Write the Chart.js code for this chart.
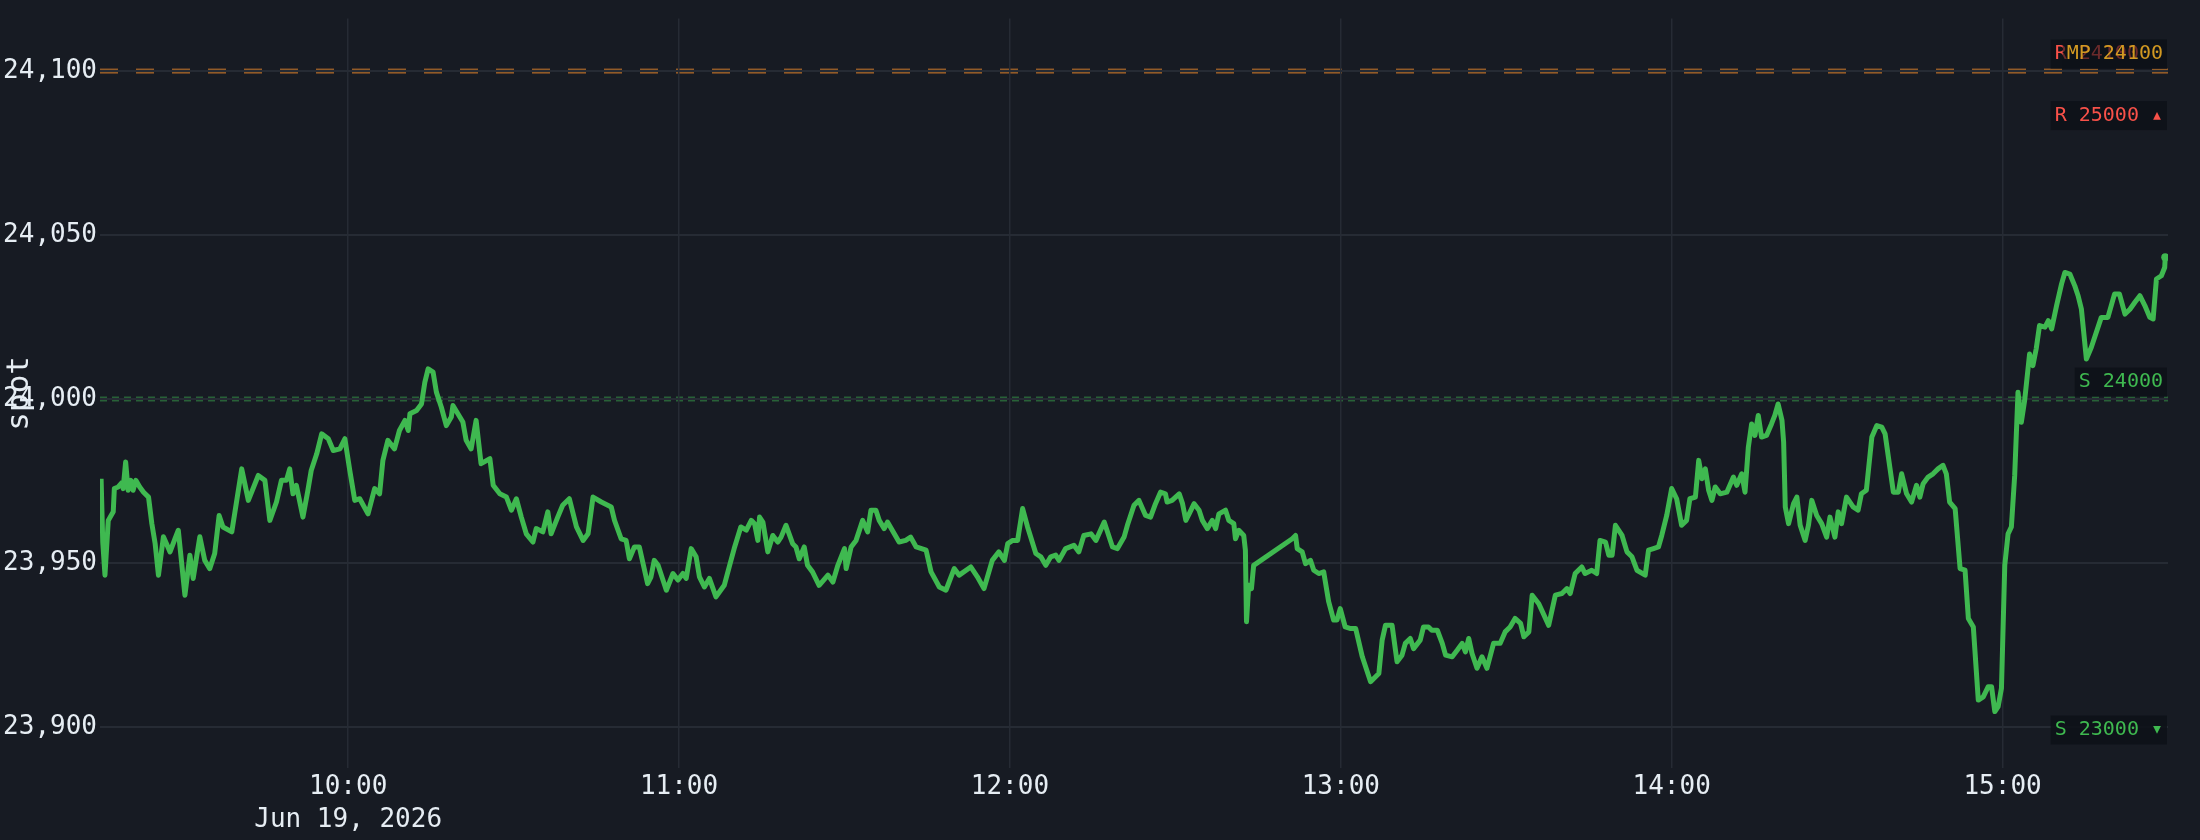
<!DOCTYPE html>
<html lang="en">
<head>
<meta charset="UTF-8">
<title>spot</title>
<script src="https://cdn.jsdelivr.net/npm/chart.js"></script>
<style>
  html, body { margin: 0; padding: 0; background: #171b23; }
  #wrap { width: 2200px; height: 840px; }
</style>
</head>
<body>
<div id="wrap"><canvas id="spotChart" width="2200" height="840"></canvas></div>
<script>
// x values are minutes since midnight (09:15 = 555, 15:30 = 930)
const times = [
  555.2, 555.5, 555.9, 556.5, 557.4, 557.6, 558.3, 558.9, 559.2, 559.65, 560.1, 560.6, 561.0, 561.5, 562.2, 562.9,
  563.8, 564.4, 565.0, 565.6, 566.5, 567.7, 568.6, 569.2, 570.4, 571.3, 571.9, 573.1, 574.0, 574.9, 575.8, 576.6,
  577.3, 578.9, 580.7, 581.9, 583.7, 584.9, 585.8, 587.0, 587.9, 588.8, 589.4, 590.0, 590.6, 591.8, 592.7, 593.3,
  594.3, 595.2, 596.4, 597.3, 598.5, 599.4, 600.3, 601.2, 602.1, 603.6, 604.8, 605.7, 606.3, 607.2, 608.4, 609.3,
  610.3, 610.9, 611.2, 612.4, 613.3, 613.9, 614.5, 615.4, 616.0, 616.9, 617.8, 618.7, 619.0, 619.9, 620.8, 621.4,
  622.3, 623.2, 624.1, 625.7, 626.3, 627.5, 628.7, 629.6, 630.5, 631.4, 632.3, 633.5, 634.1, 635.3, 636.2, 636.8,
  638.0, 638.9, 640.1, 641.4, 642.6, 643.5, 644.4, 645.9, 647.7, 648.3,
  649.5, 650.4, 651.0, 651.9, 652.8, 654.3, 654.9, 655.5, 656.2, 657.7, 658.9, 659.8, 660.7, 661.3, 662.2, 663.1,
  663.7, 664.6, 665.5, 666.7, 668.2, 669.1, 670.0, 671.2, 672.2, 673.1, 673.7, 674.3, 674.6, 675.2, 676.1, 677.0,
  677.9, 678.5, 679.4, 680.6, 681.2, 681.8, 682.7, 683.3, 684.2, 685.4, 687.0, 687.9, 688.8, 690.0, 690.3, 691.2,
  692.1, 693.3, 694.2, 694.8, 695.7, 696.3, 697.2, 697.8, 699.9, 701.1, 702.0, 703.0, 704.8, 705.7, 707.2, 708.4,
  709.9, 710.8, 712.9, 714.1, 715.3, 716.8, 718.0, 719.0, 719.6, 720.5, 721.4, 722.3, 723.2, 724.7, 725.6, 726.5,
  727.4, 728.3, 728.9, 730.1, 731.6, 732.5, 733.4, 734.7, 735.6, 737.1, 738.6, 739.5, 740.7, 741.3, 742.5,
  743.4, 744.6, 745.5, 746.4, 747.3, 748.2, 748.5, 749.4, 750.7, 751.3, 751.9, 752.5, 753.4, 754.3, 754.9, 755.8,
  756.7, 757.3, 757.9, 759.1, 759.7, 760.6, 760.9, 761.5, 762.4, 762.7, 762.9, 763.3, 763.8, 764.2, 771.2, 771.8,
  772.1, 773.0, 773.6, 774.5, 775.1, 776.0, 776.9, 777.8, 778.7, 779.3, 779.9, 780.8, 781.8, 782.7, 783.9, 785.4,
  786.9, 787.5, 788.1, 789.3, 790.2, 791.1, 791.7, 792.6, 793.2, 794.4, 795.0, 795.9, 796.5, 797.5, 798.4, 799.0,
  800.2, 801.1, 802.0, 802.6, 803.2, 803.8, 804.7, 805.6, 806.5, 807.7, 808.9, 809.8, 810.7, 811.6, 812.6, 813.2,
  814.1, 814.7, 815.9, 817.7, 818.9, 820.1, 821.0, 821.6, 822.5, 823.7, 824.3, 825.5, 826.4, 827.0, 828.0, 828.6,
  829.2, 829.8, 831.0, 831.9, 832.8, 833.7, 835.2, 835.8, 836.7,
  837.6, 838.2, 839.1, 840.0, 840.9, 841.8, 842.7, 843.3, 844.3, 844.9, 845.5, 846.1, 846.7, 847.3, 847.9, 848.8,
  850.0, 851.2, 851.8, 852.7, 853.3, 853.9, 854.5, 855.1, 855.7, 856.3, 857.2, 858.1, 858.7, 859.3, 860.0, 860.3,
  860.6, 861.2, 862.1, 862.7, 863.3, 864.2, 864.8, 865.4, 866.3, 867.2, 868.1, 868.7, 869.6, 870.2, 870.8, 871.7,
  872.9, 873.8, 874.4, 875.3, 876.3, 877.2, 878.1, 878.7, 879.6, 880.2, 881.1, 881.7, 882.6, 883.5, 884.4, 885.0,
  885.6, 886.5, 887.4, 888.3, 889.2, 889.8, 890.4, 891.4, 892.3, 893.2, 893.8, 894.7, 895.6, 896.5, 897.4, 898.0,
  898.6, 899.2, 899.8, 900.4, 901.0, 901.6, 902.2, 902.8, 903.4, 904.0, 904.9, 905.5, 906.1, 906.7, 907.7, 908.3,
  908.9, 909.8, 910.7, 911.3, 912.2, 913.1, 913.7, 914.3, 915.2, 916.1, 917.9, 919.1, 920.3, 921.2, 922.2, 923.1,
  924.0, 924.9, 925.8, 926.7, 927.3, 927.9, 928.8, 929.4, 929.5
];
const spot = [
  23975.7, 23956.4, 23946.3, 23963.0, 23965.6, 23972.7, 23973.2, 23974.4, 23972.7, 23980.8, 23972.2, 23975.2, 23972.2, 23975.2, 23973.2, 23971.6,
  23970.1, 23962.0, 23955.9, 23946.3, 23958.0, 23953.4, 23957.4, 23960.0, 23940.2, 23952.4, 23945.3, 23958.0, 23950.8, 23948.3, 23952.9, 23964.5,
  23961.0, 23959.5, 23978.7, 23969.1, 23976.7, 23975.2, 23963.0, 23968.6, 23975.2, 23975.2, 23978.7, 23971.1, 23973.7, 23964.0, 23972.2, 23978.2,
  23983.3, 23989.4, 23987.9, 23984.3, 23984.8, 23987.9, 23978.2, 23969.1, 23969.6, 23965.0, 23972.7, 23971.1, 23981.3, 23987.4, 23984.8, 23990.4,
  23993.5, 23990.4, 23995.5, 23996.5, 23998.5, 24005.1, 24009.2, 24008.2, 24002.1, 23997.5, 23991.9, 23994.5, 23998.0, 23995.5, 23993.0, 23987.4,
  23984.8, 23993.5, 23980.3, 23981.8, 23973.7, 23971.1, 23970.1, 23966.1, 23969.6, 23964.0, 23958.9, 23956.4, 23960.5, 23959.5, 23965.6, 23958.9,
  23964.0, 23967.6, 23969.6, 23961.0, 23956.9, 23958.9, 23970.1, 23968.6, 23967.1, 23963.0,
  23957.4, 23956.9, 23951.3, 23954.9, 23954.9, 23943.7, 23945.7, 23950.8, 23949.3, 23941.7, 23946.8, 23944.8, 23946.8, 23945.3, 23954.4, 23951.9,
  23945.8, 23942.7, 23945.3, 23939.7, 23943.2, 23948.8, 23954.4, 23961.0, 23960.0, 23963.0, 23962.0, 23956.9, 23964.0, 23962.5, 23953.4, 23958.4,
  23956.4, 23957.9, 23961.5, 23955.9, 23954.9, 23951.3, 23954.9, 23949.3, 23947.3, 23943.2, 23946.3, 23944.2, 23949.3, 23954.4, 23948.3, 23954.9,
  23956.9, 23963.0, 23959.5, 23966.1, 23966.1, 23963.0, 23960.5, 23962.5, 23956.4, 23956.9, 23957.9, 23954.9, 23953.9, 23947.3, 23942.7, 23941.7,
  23948.3, 23946.3, 23948.8, 23945.8, 23942.2, 23950.8, 23953.4, 23950.8, 23955.9, 23956.9, 23956.9, 23966.6, 23961.0, 23952.9, 23951.9, 23949.3,
  23951.9, 23952.4, 23950.8, 23954.4, 23955.4, 23953.4, 23958.4, 23958.9, 23956.9, 23962.5, 23954.9, 23954.4, 23957.9, 23961.5, 23967.6,
  23969.1, 23964.5, 23964.0, 23968.1, 23971.6, 23971.1, 23968.6, 23969.1, 23971.1, 23968.1, 23963.0, 23965.0, 23968.1, 23966.1, 23963.0, 23960.5,
  23963.0, 23960.5, 23965.0, 23966.1, 23963.0, 23962.0, 23957.4, 23960.0, 23958.4, 23953.9, 23932.1, 23943.2, 23942.2, 23949.3, 23957.4, 23958.4,
  23954.4, 23953.4, 23949.8, 23950.8, 23947.8, 23946.8, 23947.3, 23938.2, 23932.6, 23932.6, 23936.1, 23930.5, 23930.0, 23930.0, 23921.4, 23913.8,
  23916.3, 23926.5, 23931.0, 23931.0, 23919.9, 23921.9, 23925.5, 23927.0, 23923.9, 23926.5, 23930.5, 23930.5, 23929.5, 23929.5, 23925.5, 23921.9,
  23921.4, 23923.4, 23925.5, 23922.9, 23927.0, 23922.4, 23917.9, 23921.4, 23917.9, 23925.5, 23925.5, 23929.0, 23930.5, 23933.1, 23931.6, 23927.5,
  23929.0, 23940.2, 23937.6, 23931.0, 23940.2, 23940.7, 23942.2, 23940.7, 23946.8, 23948.8, 23946.8, 23947.8, 23946.8, 23956.9, 23956.4, 23952.4,
  23952.4, 23961.5, 23958.4, 23953.4, 23951.9, 23947.8, 23946.3, 23953.9, 23954.4,
  23954.9, 23958.4, 23964.5, 23972.7, 23969.6, 23961.5, 23963.0, 23969.6, 23970.1, 23981.3, 23975.7, 23978.7, 23972.2, 23969.1, 23973.2, 23971.1,
  23971.6, 23976.2, 23973.7, 23977.2, 23971.6, 23985.3, 23992.4, 23988.9, 23995.0, 23988.4, 23988.9, 23992.4, 23995.0, 23998.5, 23993.5, 23986.9,
  23967.1, 23962.0, 23968.1, 23970.1, 23961.5, 23956.9, 23961.5, 23969.1, 23964.5, 23962.0, 23957.9, 23964.0, 23957.9, 23965.6, 23962.0, 23970.1,
  23967.1, 23966.1, 23971.1, 23972.2, 23988.4, 23991.9, 23991.4, 23989.4, 23978.7, 23971.6, 23971.6, 23977.2, 23971.1, 23968.6, 23973.7, 23970.1,
  23974.2, 23976.2, 23977.2, 23978.7, 23979.8, 23977.2, 23968.6, 23966.6, 23948.3, 23947.8, 23933.1, 23930.5, 23908.2, 23909.2, 23912.3, 23912.3,
  23904.7, 23906.2, 23911.8, 23949.3, 23958.9, 23961.0, 23976.7, 24002.1, 23992.9, 23999.5, 24013.7, 24010.2, 24015.3, 24022.4, 24021.9, 24023.9,
  24021.4, 24028.5, 24035.1, 24038.6, 24038.1, 24034.5, 24031.5, 24027.4, 24012.2, 24015.8, 24024.9, 24024.9, 24032.0, 24032.0, 24025.9, 24027.4,
  24029.5, 24031.5, 24028.5, 24024.9, 24024.4, 24036.6, 24037.6, 24040.1, 24043.2
];

const xTicks = [600, 660, 720, 780, 840, 900];
const yTicks = [23900, 23950, 24000, 24050, 24100];
const dateLabel = 'Jun 19, 2026';

// support / resistance / max pain levels
const levelNames = ['R', 'R', 'MP', 'S', 'S'];
const levelValues = [25000, 24100, 24100, 24000, 23000];

const bg = '#171b23';
const fg = '#e6edf3';
const gridColor = '#262b34';
const mono = "'DejaVu Sans Mono', monospace";
const colors = { R: '#f85149', S: '#3fb950', MP: '#d29922' };
const lineColors = { R: 'rgba(248,81,73,0.3)', S: 'rgba(63,185,80,0.45)', MP: 'rgba(210,153,34,0.45)' };

function hhmm(m) {
  const h = Math.floor(m / 60), mm = Math.round(m % 60);
  return String(h).padStart(2, '0') + ':' + String(mm).padStart(2, '0');
}

const levelLines = {
  id: 'levelLines',
  beforeDraw(chart) {
    const { ctx, chartArea: a, scales: { y } } = chart;
    ctx.save();
    ctx.fillStyle = bg;
    ctx.fillRect(0, 0, chart.width, chart.height);
    levelNames.forEach((name, i) => {
      const v = levelValues[i];
      if (v < y.min || v > y.max) return;
      const py = y.getPixelForValue(v);
      ctx.strokeStyle = lineColors[name];
      ctx.lineWidth = 5;
      ctx.setLineDash(name === 'S' ? [7, 5] : [18, 18]);
      ctx.beginPath();
      ctx.moveTo(a.left, py);
      ctx.lineTo(a.right, py);
      ctx.stroke();
    });
    ctx.restore();
  }
};

function tag(ctx, text, color, right, yc, align, left, boxAlpha) {
  ctx.font = '20px ' + mono;
  const w = ctx.measureText(text).width;
  const bx = align === 'left' ? left - 4 : right - w - 4;
  const bw = align === 'left' ? right + 4 - bx : w + 8;
  ctx.fillStyle = 'rgba(13,17,23,' + boxAlpha + ')';
  ctx.fillRect(bx, yc - 14.5, bw, 29);
  ctx.fillStyle = color;
  ctx.textBaseline = 'middle';
  ctx.textAlign = align;
  ctx.fillText(text, align === 'left' ? left : right, yc);
}

const levelTags = {
  id: 'levelTags',
  afterDraw(chart) {
    const { ctx, chartArea: a, scales: { y } } = chart;
    const right = a.right - 5;
    ctx.save();
    ctx.font = '20px ' + mono;
    const nineWide = ctx.measureText('R 25000 ▴').width;
    levelNames.forEach((name, i) => {
      const v = levelValues[i];
      let text = name + ' ' + v;
      let yc;
      if (v > y.max) { text += ' ▴'; yc = a.top + 97; }
      else if (v < y.min) { text += ' ▾'; yc = a.bottom - 38; }
      else yc = y.getPixelForValue(v) - 17;
      if (name === 'R' && v <= y.max) {
        tag(ctx, text, colors[name], right, yc, 'left', right - nineWide, 0.85);
      } else {
        tag(ctx, text, colors[name], right, yc, 'right', 0, name === 'MP' ? 0.6 : 0.85);
      }
    });
    ctx.restore();
  }
};

new Chart(document.getElementById('spotChart'), {
  type: 'line',
  data: {
    datasets: [{
      label: 'spot',
      data: times.map((t, i) => ({ x: t, y: spot[i] })),
      borderColor: '#3fb950',
      backgroundColor: '#3fb950',
      borderWidth: 5,
      borderJoinStyle: 'round',
      tension: 0,
      pointRadius: times.map((t, i) => i === times.length - 1 ? 4 : 0),
      pointBorderWidth: 0,
      fill: false
    }]
  },
  options: {
    responsive: false,
    animation: false,
    layout: { padding: { top: 17, right: 32, left: 0, bottom: 0 } },
    plugins: { legend: { display: false }, tooltip: { enabled: false } },
    scales: {
      x: {
        type: 'linear',
        min: 555,
        max: 930,
        afterBuildTicks: s => { s.ticks = xTicks.map(v => ({ value: v })); },
        afterFit: s => { s.height = 72; },
        grid: { color: gridColor, lineWidth: 1.5, drawTicks: false },
        border: { display: false },
        ticks: {
          color: fg,
          font: { family: mono, size: 26, lineHeight: 1.25 },
          padding: 3,
          maxRotation: 0,
          autoSkip: false,
          callback: (v, i) => i === 0 ? [hhmm(v), dateLabel] : hhmm(v)
        }
      },
      y: {
        min: 23887.5,
        max: 24116,
        afterBuildTicks: s => { s.ticks = yTicks.map(v => ({ value: v })); },
        afterFit: s => { s.width = 100; },
        grid: { color: gridColor, lineWidth: 2, drawTicks: false },
        border: { display: false },
        ticks: {
          color: fg,
          font: { family: mono, size: 26 },
          padding: 3,
          callback: v => v.toLocaleString('en-US')
        },
        title: {
          display: true,
          text: 'spot',
          color: fg,
          font: { family: mono, size: 31, lineHeight: 1.25 },
          padding: { top: 1, bottom: 0 }
        }
      }
    }
  },
  plugins: [levelLines, levelTags]
});
</script>
</body>
</html>
